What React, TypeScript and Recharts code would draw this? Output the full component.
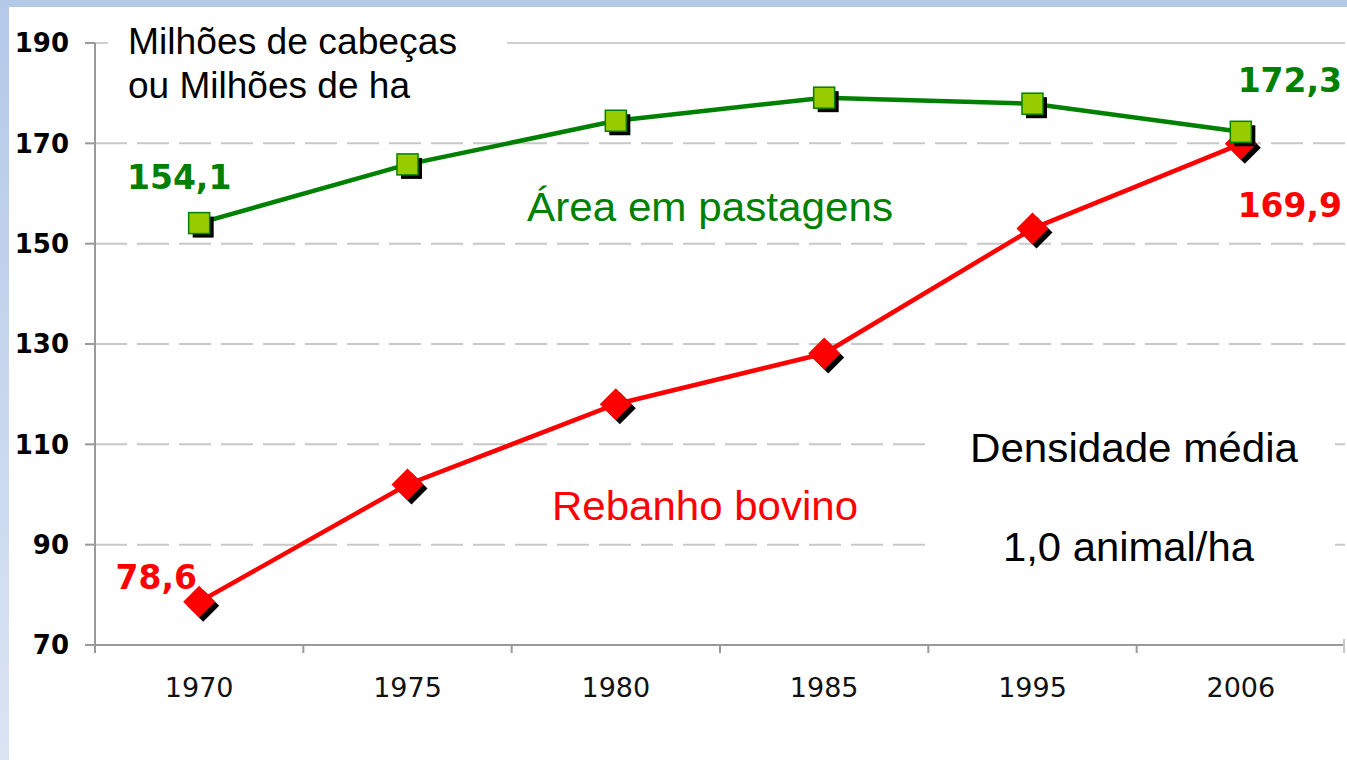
import React from 'react';
import { LineChart, Line, XAxis, YAxis, CartesianGrid, ReferenceLine, LabelList } from 'recharts';

const years = ['1970', '1975', '1980', '1985', '1995', '2006'];
const pastagens = [154.1, 165.8, 174.5, 179.1, 177.9, 172.3];
const rebanho = [78.6, 102.0, 118.0, 128.1, 153.0, 169.9];
const yTicks = [70, 90, 110, 130, 150, 170, 190];

const data = years.map((year, i) => ({ year, pastagens: pastagens[i], rebanho: rebanho[i] }));

const GREEN = '#008000';
const RED = '#ff0000';
const AXIS = '#9a9a9a';
const fmt = (v: number) => v.toFixed(1).replace('.', ',');

const SquareDot = (props: any) => {
  const { cx, cy, index } = props;
  if (cx == null || cy == null) return null;
  const s = 21;
  return (
    <g key={`sq-${index}`}>
      <rect x={cx - s / 2 + 4} y={cy - s / 2 + 4} width={s} height={s} fill="#000" />
      <rect x={cx - s / 2} y={cy - s / 2} width={s} height={s} fill="#99cc00" stroke={GREEN} strokeWidth={1.5} />
    </g>
  );
};

const DiamondDot = (props: any) => {
  const { cx, cy, index } = props;
  if (cx == null || cy == null) return null;
  const r = 16;
  const pts = (dx: number, dy: number) =>
    `${cx + dx},${cy - r + dy} ${cx + r + dx},${cy + dy} ${cx + dx},${cy + r + dy} ${cx - r + dx},${cy + dy}`;
  return (
    <g key={`dm-${index}`}>
      <polygon points={pts(4, 4)} fill="#000" />
      <polygon points={pts(0, 0)} fill={RED} />
    </g>
  );
};

const greenLabelOffsets: Record<number, [number, number]> = { 0: [-20, -34], 5: [49, -40] };
const redLabelOffsets: Record<number, [number, number]> = { 0: [-43, -13], 5: [49, 73] };

const makeLabel = (offsets: Record<number, [number, number]>, color: string) => (props: any) => {
  const { x, y, value, index } = props;
  const off = offsets[index];
  if (!off || x == null || y == null) return null;
  return (
    <text
      key={`lbl-${color}-${index}`}
      x={x + off[0]}
      y={y + off[1]}
      textAnchor="middle"
      fontFamily="DejaVu Sans"
      fontWeight="bold"
      fontSize={33}
      fill={color}
    >
      {fmt(Number(value))}
    </text>
  );
};

const XTick = (props: any) => {
  const { x, y, payload, index, visibleTicksCount } = props;
  const half = (payload && payload.offset) || 104.17;
  const axisY = y - 32;
  const count = visibleTicksCount || years.length;
  const last = index === count - 1;
  return (
    <g>
      <line x1={x - half} x2={x - half} y1={axisY} y2={axisY + 8} stroke={AXIS} strokeWidth={2} />
      {last && <line x1={x + half - 1} x2={x + half - 1} y1={axisY - 6} y2={axisY + 8} stroke="#c8c8c8" strokeWidth={2} />}
      <text x={x} y={y} dy="0.74em" textAnchor="middle" fontFamily="DejaVu Sans" fontSize={27} fill="#111">
        {payload.value}
      </text>
    </g>
  );
};

const annoFont = 'Liberation Sans, Arial, sans-serif';

export default function App() {
  return (
    <div
      style={{
        position: 'absolute',
        left: 0,
        top: 0,
        width: 1347,
        height: 760,
        background: 'linear-gradient(to bottom, #b4c8e8, #dbe4f3)',
        overflow: 'hidden',
      }}
    >
      <div style={{ position: 'absolute', left: 9, top: 7, width: 1338, height: 753, background: '#fff' }}>
        <LineChart width={1338} height={753} data={data} margin={{ top: 36, right: 2, left: 0, bottom: 0 }}>
          <CartesianGrid vertical={false} stroke="#c8c8c8" strokeWidth={2} strokeDasharray="32 10" />
          <ReferenceLine y={190} stroke="#d0d0d0" strokeWidth={2} />
          <XAxis
            dataKey="year"
            scale="band"
            height={115}
            tickSize={0}
            tickMargin={32}
            tick={<XTick />}
            axisLine={{ stroke: AXIS, strokeWidth: 2 }}
            tickLine={false}
            interval={0}
          />
          <YAxis
            width={86}
            domain={[70, 190]}
            ticks={yTicks}
            interval={0}
            tickSize={10}
            tickMargin={16}
            tick={{ fontFamily: 'DejaVu Sans', fontWeight: 'bold', fontSize: 26, fill: '#000' }}
            tickLine={{ stroke: AXIS, strokeWidth: 2 }}
            axisLine={{ stroke: AXIS, strokeWidth: 2 }}
          />
          <Line
            type="linear"
            dataKey="rebanho"
            stroke={RED}
            strokeWidth={4.5}
            dot={DiamondDot}
            activeDot={false}
            isAnimationActive={false}
          >
            <LabelList dataKey="rebanho" content={makeLabel(redLabelOffsets, RED)} />
          </Line>
          <Line
            type="linear"
            dataKey="pastagens"
            stroke={GREEN}
            strokeWidth={4.5}
            dot={SquareDot}
            activeDot={false}
            isAnimationActive={false}
          >
            <LabelList dataKey="pastagens" content={makeLabel(greenLabelOffsets, GREEN)} />
          </Line>
        </LineChart>
      </div>
      <svg style={{ position: 'absolute', left: 0, top: 0, pointerEvents: 'none' }} width={1347} height={760}>
        <rect x={108} y={18} width={399} height={92} fill="#fff" />
        <rect x={930} y={405} width={405} height={190} fill="#fff" />
        <text x={128} y={54} fontFamily={annoFont} fontSize={36} fill="#000" textLength={329} lengthAdjust="spacingAndGlyphs">
          Milhões de cabeças
        </text>
        <text x={128} y={98} fontFamily={annoFont} fontSize={36} fill="#000" textLength={282} lengthAdjust="spacingAndGlyphs">
          ou Milhões de ha
        </text>
        <text x={527} y={221} fontFamily={annoFont} fontSize={41} fill={GREEN} textLength={366} lengthAdjust="spacingAndGlyphs">
          Área em pastagens
        </text>
        <text x={552} y={520} fontFamily={annoFont} fontSize={41} fill={RED} textLength={306} lengthAdjust="spacingAndGlyphs">
          Rebanho bovino
        </text>
        <text x={970} y={462} fontFamily={annoFont} fontSize={41} fill="#000" textLength={328} lengthAdjust="spacingAndGlyphs">
          Densidade média
        </text>
        <text x={1003} y={561} fontFamily={annoFont} fontSize={41} fill="#000" textLength={251} lengthAdjust="spacingAndGlyphs">
          1,0 animal/ha
        </text>
      </svg>
    </div>
  );
}
